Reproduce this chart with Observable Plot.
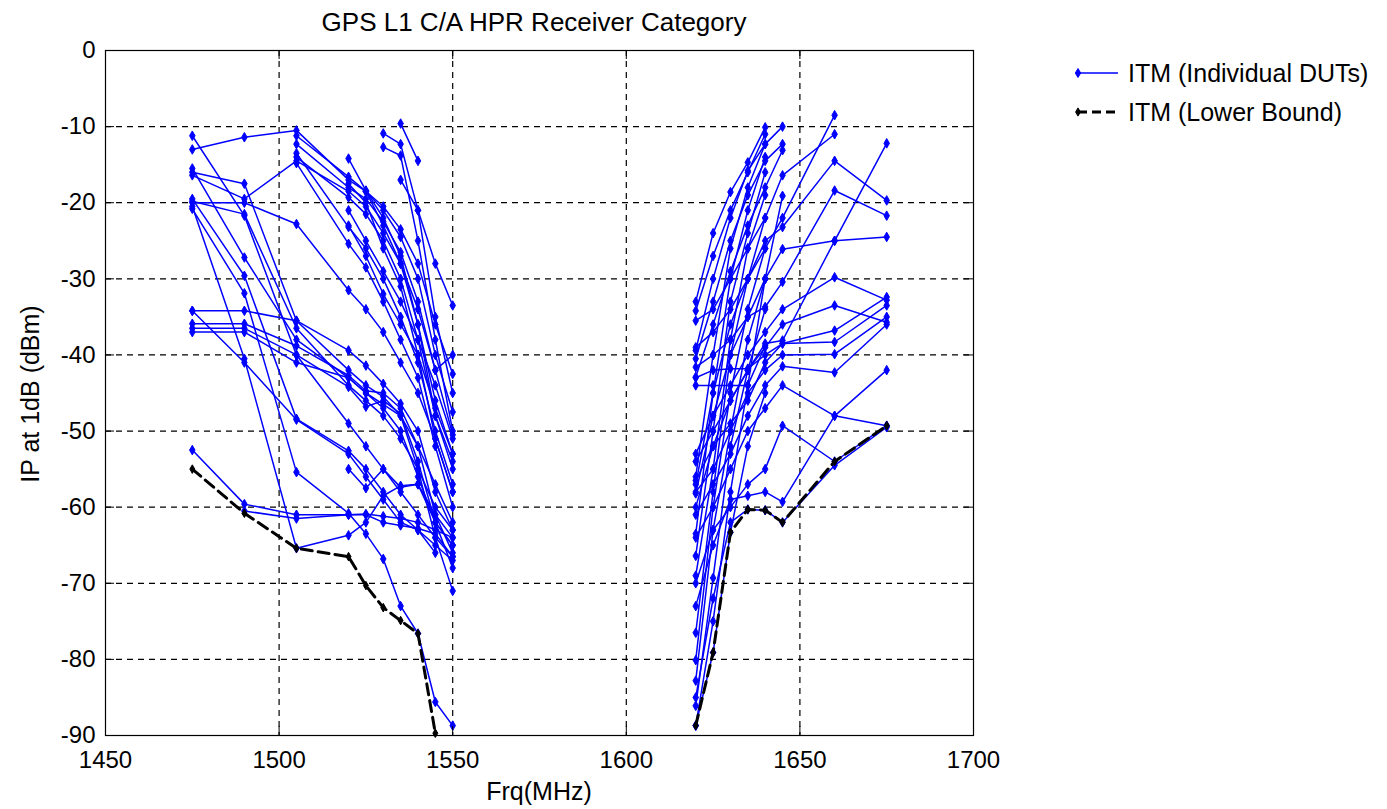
<!DOCTYPE html>
<html>
<head>
<meta charset="utf-8">
<script src="https://cdn.jsdelivr.net/npm/d3@7"></script>
<script src="https://cdn.jsdelivr.net/npm/@observablehq/plot@0.6"></script>
<style>
  body { margin: 0; background: #fff; font-family: "Liberation Sans", Arial, sans-serif; }
  #wrap { position: relative; width: 1387px; height: 809px; background: #fff; }
  .ov { position: absolute; font-size: 25px; line-height: 1; color: #000; white-space: nowrap; }
</style>
</head>
<body>
<div id="wrap"></div>
<script>
const n = null;
const xTicks = [1450, 1500, 1550, 1600, 1650, 1700];
const yTicks = [0, -10, -20, -30, -40, -50, -60, -70, -80, -90];
const freqLeft = [1475, 1490, 1505, 1520, 1525, 1530, 1535, 1540, 1545, 1550];
const freqRight = [1620, 1625, 1630, 1635, 1640, 1645, 1660, 1675];

// Individual DUTs, lower band (values at freqLeft)
const dutLeft = [
  [-13, -11.4, -10.5, -17, -18.5, -21, -24.5, -30, -40, -47.5],
  [n, n, -11.2, -16.6, -18.5, -20.5, -23.5, -28, -36, -42.5],
  [n, n, -12.3, -18, -19.5, -22.5, -26.5, -33, -42, -50.5],
  [-16.4, -19.5, -14.5, -18.5, -20.5, -24, -28, -36, -46, -53],
  [n, n, -14, -19.3, -21.5, -25, -30, -38, -48, -55],
  [n, n, -13.5, -23.2, -26, -30, -35, -41, -50, -57],
  [n, n, -14.8, -25.4, -28.5, -33, -38, -43, -52, -60],
  [-20, -20, -22.8, -31.5, -34, -37, -41, -45, -51, -58],
  [n, n, n, -14.2, -18.4, -22, -27, -36, -48, -54],
  [n, n, n, n, n, -10.9, -12.3, -21, -35, -45],
  [n, n, n, n, n, n, -9.6, -14.5, n, n],
  [n, n, n, n, n, -12.7, -13.8, -25, -38, -50],
  [n, n, n, n, n, n, -17, -21, -28, -33.5],
  [-11.2, -21.7, -40, -49, -52, -55, -58, -61, -64, -66.5],
  [-15.5, -27.2, -38, -43, -45, -47, -50, -56, -62, -65],
  [-19.5, -29.6, -48.4, -52.6, -55, -58, -61, -63, -65, -67],
  [-20.8, -31.9, -55.4, -60.8, -63.5, -66.8, -73, -76.6, -85.6, -88.7],
  [-34.2, -34.2, -35.5, -39.4, -41.4, -43.8, -46.4, -50, -58, -63],
  [-35.9, -35.9, -38.8, -42.7, -44.7, -45, -47, -52, -61, -66],
  [-36.5, -36.5, -40, -44.2, -46.8, -46, -47.7, -54, -62, -68],
  [-37, -37, -41, -43, -45, -46.5, -48, -55, -64, -71],
  [-34.2, -41, -48.5, -53, -56, -59, -62, -63, -66, n],
  [-52.5, -59.6, -61, -61, -61, -62, -62.4, -62.8, -63.5, -66.5],
  [n, -60.5, -61.5, -61, -60.9, -61.2, -61.5, -62, -63, -64],
  [-20.5, -40.5, -65.4, -63.7, -62, -58.5, -57.2, -57, -61, -64],
  [n, n, n, -55, -57.5, -55, -57.4, -57, -62, -65],
  [n, n, n, -21, -25, -29, -33, -38, -44, -51],
  [n, n, n, -23, -27, -32, -36, -40, -47, -53],
  [n, n, n, -17.5, -20, -26, -31, -40, -51, -58],
  [n, n, n, n, -18.5, -23, -28, -34, -42, -40],
  [-16, -17.5, -35.5, -42, -44, -45.5, -48, -52, -57, -62],
  [-19.8, -21.5, -36.5, -44, -46, -48, -51, -55, -60, -63]
];

// Individual DUTs, upper band (values at freqRight)
const dutRight = [
  [-33, -24, -18.6, -14.7, -10.1, n, n, n],
  [-34.2, -27, -21, -16, -11, n, n, n],
  [-56, -40, -26, -18, -12.3, n, n, n],
  [-63.5, -45, -30, -21, -14, n, n, n],
  [-66.4, -50, -33, -24, -16, n, n, n],
  [-69, -55, -38, -26, -19, n, n, n],
  [-76.5, -58, -40, -30, -22, n, n, n],
  [-80.1, -60, -45, -34, -26, n, n, n],
  [-82.8, -63, -50, -38, -30, n, n, n],
  [-86.1, -69.3, -52, -42, -34, n, n, n],
  [-88.7, -75, -58, -44, -38.8, n, n, n],
  [-88.7, -79.1, -63.3, -52, -45, n, n, n],
  [-39.4, -30, -22, -15.8, -12.3, -10, n, n],
  [-40.5, -33, -25, -19, -14.5, -12.3, n, n],
  [-42.9, -36, -29, -23, -18, -13.1, n, n],
  [-44, -44, n, -44, -30, -19.1, n, n],
  [-57, -45, -36, -30, -26, -22, -8.5, n],
  [-58.2, -48, -40, -35, -30, -26.1, -25, -24.5],
  [-60, -52, -46, -42, -38.5, -38.1, -25, -12.2],
  [-41.6, -40, -38, -35, -33.7, -30.4, -18.4, -21.7],
  [-39, -37, -34, -30, -25, -23.2, -14.5, -19.7],
  [-43, -42, -41.8, -41.8, -40, -38.5, -36.8, -32.4],
  [-56.5, -52, -49, -46, -41, -38.5, -38.3, -33.5],
  [-58, -55, -50, -45, -42, -40, -39.9, -35],
  [-61, -57, -53, -48, -44, -41.5, -42.3, -36],
  [-64, -60, -55, -50, -47, -44, -48, -49.3],
  [-70, -63, -60, -57, -55, -49.3, -54, -49.3],
  [-73, -65, -59, -58.5, -58, -59.3, -48, -42],
  [-85, -72, -62, -60.3, -60.4, -62, -54.5, -49.5],
  [-53, -48, -44, -40, -37, -34, -29.8, -32.8],
  [-54, -50, -46, -42, -39, -36, -33.5, -35.7],
  [-35.5, -34, -30, -26, -22, -16.4, -11, n]
];

// Lower bound
const lowerLeft = [-55, -60.8, -65.4, -66.5, -70.3, -73.2, -74.9, -76.6, -89.7, n];
const lowerRight = [-88.7, -79.1, -63.3, -60.3, -60.4, -62, -54, -49.3];

const dutRows = [];
dutLeft.forEach((s, i) => s.forEach((v, j) => { if (v != null) dutRows.push({id: "L" + i, f: freqLeft[j], v}); }));
dutRight.forEach((s, i) => s.forEach((v, j) => { if (v != null) dutRows.push({id: "R" + i, f: freqRight[j], v}); }));
const lowRows = [];
lowerLeft.forEach((v, j) => { if (v != null) lowRows.push({id: "L", f: freqLeft[j], v}); });
lowerRight.forEach((v, j) => { if (v != null) lowRows.push({id: "R", f: freqRight[j], v}); });

const xIn = xTicks.slice(1, -1);
const yIn = yTicks.slice(1, -1);
const tickX = 9 / ((973 - 105) / 250);
const tickY = 9 / ((735 - 50) / 90);
const fmt = d => String(d);

const chart = Plot.plot({
  width: 1387, height: 809,
  marginLeft: 105, marginRight: 414, marginTop: 50, marginBottom: 74,
  x: {domain: [1450, 1700]},
  y: {domain: [-90, 0]},
  style: {fontFamily: "'Liberation Sans', Arial, sans-serif", fontSize: "24px", color: "black", background: "white", overflow: "visible"},
  marks: [
    Plot.gridX(xIn, {stroke: "black", strokeOpacity: 1, strokeWidth: 1.2, strokeDasharray: "6,5"}),
    Plot.gridY(yIn, {stroke: "black", strokeOpacity: 1, strokeWidth: 1.2, strokeDasharray: "6,5"}),
    Plot.line(dutRows, {x: "f", y: "v", z: "id", stroke: "#0000ff", strokeWidth: 1.5}),
    Plot.dot(dutRows, {x: "f", y: "v", symbol: "diamond", r: 2.9, fill: "#0000ff", stroke: "#0000ff", strokeWidth: 1}),
    Plot.line(lowRows, {x: "f", y: "v", z: "id", stroke: "black", strokeWidth: 3, strokeDasharray: "11,6"}),
    Plot.dot(lowRows, {x: "f", y: "v", symbol: "diamond", r: 2.6, fill: "black", stroke: "black", strokeWidth: 1}),
    Plot.ruleX(xTicks, {x: d => d, y1: -90, y2: -90 + tickY, stroke: "black"}),
    Plot.ruleX(xTicks, {x: d => d, y1: 0, y2: -tickY, stroke: "black"}),
    Plot.ruleY(yTicks, {y: d => d, x1: 1450, x2: 1450 + tickX, stroke: "black"}),
    Plot.ruleY(yTicks, {y: d => d, x1: 1700, x2: 1700 - tickX, stroke: "black"}),
    Plot.frame({stroke: "black", strokeWidth: 1.2}),
    Plot.axisX(xTicks, {tickSize: 0, tickPadding: 15, tickFormat: fmt, label: null, fontSize: 24}),
    Plot.axisY(yTicks, {tickSize: 0, tickPadding: 10, tickFormat: fmt, label: null, fontSize: 24})
  ]
});

const wrap = document.getElementById("wrap");
chart.style.position = "absolute";
chart.style.left = "0px";
chart.style.top = "0px";
wrap.appendChild(chart);

function ov(text, css) {
  const d = document.createElement("div");
  d.className = "ov";
  d.textContent = text;
  Object.assign(d.style, css);
  wrap.appendChild(d);
  return d;
}
ov("GPS L1 C/A HPR Receiver Category", {left: "534px", top: "9px", fontSize: "26px", transform: "translateX(-50%)"});
ov("Frq(MHz)", {left: "539px", top: "779px", transform: "translateX(-50%)"});
ov("IP at 1dB (dBm)", {left: "30px", top: "394px", transform: "translate(-50%,-50%) rotate(-90deg)"});

// legend
const leg = document.createElementNS("http://www.w3.org/2000/svg", "svg");
leg.setAttribute("width", "60"); leg.setAttribute("height", "70");
leg.style.position = "absolute"; leg.style.left = "1070px"; leg.style.top = "50px";
leg.innerHTML = `
  <line x1="8" y1="23" x2="48" y2="23" stroke="#0000ff" stroke-width="1.5"/>
  <path d="M8,18.5L10.7,23L8,27.5L5.3,23Z" fill="#0000ff" stroke="#0000ff"/>
  <line x1="8" y1="62" x2="48" y2="62" stroke="black" stroke-width="3" stroke-dasharray="9,5"/>
  <path d="M8,57.9L10.4,62L8,66.1L5.6,62Z" fill="black" stroke="black"/>`;
wrap.appendChild(leg);
ov("ITM (Individual DUTs)", {left: "1128px", top: "61px"});
ov("ITM (Lower Bound)", {left: "1128px", top: "100px"});
</script>
</body>
</html>
